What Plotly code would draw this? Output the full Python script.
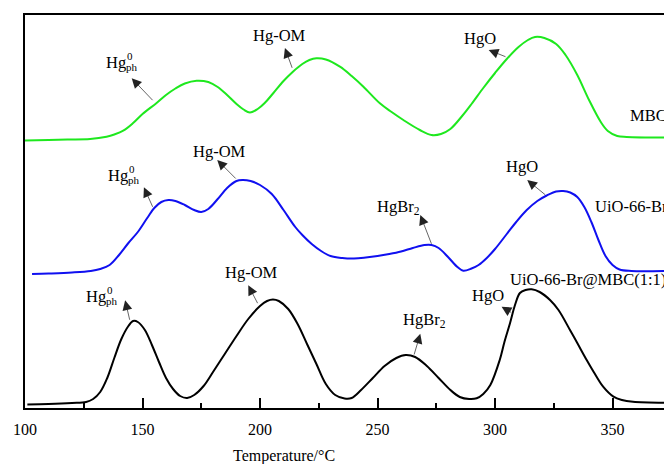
import plotly.graph_objects as go

# Temperature (deg C) and offset TPD signal (arbitrary units)
mbc_T = [100, 110, 118, 127.7, 134.7, 138, 141.8, 146, 150, 156, 160, 164, 168, 173, 178, 182, 186, 190, 193, 195.7,
         199, 202, 205.7, 210, 214, 218, 221, 224, 228, 234, 239, 244, 251, 256, 261, 268, 273, 277,
         281, 286, 290, 295, 300, 305, 310, 314, 317, 321, 326, 330, 335, 340, 345, 348, 352, 356, 372]
mbc_y = [267.5, 268, 268.5, 269, 271.3, 273.5, 277.3, 285, 294, 305, 313, 319.5, 324.5, 327.3, 326, 321, 313, 304, 298.5, 295.5,
         299, 305, 315, 327, 336.3, 344, 348, 349.7, 348.5, 341.3, 332, 321.3, 304.7, 296, 288, 278, 273, 274,
         279, 292, 304, 320, 335, 349, 361, 368, 371, 370, 364, 353, 333, 308, 286, 277, 272, 271, 270.5]

uio_T = [103, 110, 120, 128, 132, 136, 140, 144, 148, 152, 155, 158, 161, 164, 168, 172, 175, 178, 182, 186,
         190, 192.5, 196, 200, 205, 210, 215, 218, 222, 226, 230, 235, 240, 245, 250, 255, 260, 265, 270, 273,
         276, 280, 284, 286.5, 290, 293, 296.5, 300, 305, 309, 313.5, 318, 322, 326, 329, 332, 335, 338, 341,
         344, 347, 350, 353, 358, 372]
uio_y = [134, 134.5, 135.5, 137, 139, 143, 153, 165, 176, 190, 200, 206, 208, 207, 203, 198, 196, 199, 209, 220,
         227, 228, 227, 223, 214, 198, 181, 173, 164, 157, 152, 150, 149.5, 150.5, 152, 154, 156.5, 160, 163, 163,
         160, 151, 141, 137.3, 139.5, 143, 150, 159, 174, 186, 198, 207, 212.5, 216.5, 217, 215.5, 211, 201, 186,
         168, 152, 143, 138.5, 137, 137]

comp_T = [101, 110, 120, 126, 129, 132, 135, 138, 141, 144, 146, 148, 151, 154, 157, 160, 163, 166, 169, 172,
          176, 180, 185, 190, 195, 200, 203, 205.5, 208, 212, 216, 220, 224, 228, 232, 236, 239, 243, 248, 253,
          258, 262, 266, 271, 276, 281, 285, 289, 292.2, 295, 298, 302, 304, 306.4, 308.5, 310.6, 313, 315.6,
          319, 323.4, 327, 331.9, 335, 339, 342, 346, 350.4, 354, 358.7, 372]
comp_y = [3.5, 4, 5, 6, 9, 16, 30, 50, 69, 82, 87, 86, 78, 63, 46, 30, 19, 12, 10, 13,
          22, 36, 54, 72, 89, 102, 107, 108.5, 107, 99, 84, 64, 44, 24, 13, 9.5, 10, 18, 30, 42,
          50, 53, 51, 42, 30, 18, 11, 9, 9.7, 14, 23, 48, 66, 85, 103, 115, 118, 118.7,
          116, 108, 98, 78, 65, 48, 36, 21.3, 11.3, 8, 6.3, 5.3]

x_ticks = [100, 150, 200, 250, 300, 350]

FONT = "Liberation Serif"
LBL = 16.5

fig = go.Figure()
fig.add_trace(go.Scatter(x=mbc_T, y=mbc_y, mode="lines", line=dict(color="#1ee81e", width=2, shape="spline", smoothing=1.0), name="MBC"))
fig.add_trace(go.Scatter(x=uio_T, y=uio_y, mode="lines", line=dict(color="#1010f0", width=2, shape="spline", smoothing=1.0), name="UiO-66-Br"))
fig.add_trace(go.Scatter(x=comp_T, y=comp_y, mode="lines", line=dict(color="black", width=2, shape="spline", smoothing=1.0), name="UiO-66-Br@MBC(1:1)"))

ann = []

def arrow(hx, hy, tx, ty):
    ann.append(dict(x=hx, y=hy, ax=tx, ay=ty, xref="x", yref="y", axref="x", ayref="y",
                    text="", showarrow=True, arrowhead=2, arrowsize=2.8, arrowwidth=0.7,
                    arrowcolor="#222", standoff=0, startstandoff=0))

def label(x, y, text, anchor="center", size=LBL):
    ann.append(dict(x=x, y=y, xref="x", yref="y", text=text, showarrow=False, xanchor=anchor,
                    yanchor="middle", font=dict(family=FONT, size=size, color="black")))

def hgph(xr, y):
    ann.append(dict(x=xr, y=y, xref="x", yref="y", text="Hg", showarrow=False, xanchor="right",
                    yanchor="middle", font=dict(family=FONT, size=LBL, color="black")))
    ann.append(dict(x=xr, y=y, xref="x", yref="y", text="0", showarrow=False, xanchor="left",
                    yanchor="middle", yshift=6, xshift=-3, font=dict(family=FONT, size=11, color="black")))
    ann.append(dict(x=xr, y=y, xref="x", yref="y", text="ph", showarrow=False, xanchor="left",
                    yanchor="middle", yshift=-5, xshift=-4, font=dict(family=FONT, size=11, color="black")))

# MBC
hgph(143.8, 346)
arrow(145.4, 329.7, 154.9, 306.3)
label(208.5, 373, "Hg-OM")
arrow(210.6, 360, 213.9, 338.7)
label(293.4, 369.5, "HgO")
arrow(297.3, 358, 305.1, 350.7)
label(356.6, 293, "MBC", anchor="left")

# UiO-66-Br
hgph(144.7, 233)
arrow(150.6, 220.7, 154.6, 199.7)
label(182.8, 257, "Hg-OM")
arrow(181.8, 248, 190.3, 228)
label(259.1, 201, "HgBr<sub>2</sub>")
arrow(268.2, 193, 273.2, 162.7)
label(311.5, 242, "HgO")
arrow(313.7, 228, 322, 212)
label(341.5, 201.3, "UiO-66-Br", anchor="left")

# UiO-66-Br@MBC(1:1)
hgph(135.4, 112)
arrow(142.6, 107.7, 144.7, 86.7)
label(196.2, 136, "Hg-OM")
arrow(195, 122.7, 199.3, 103.3)
label(270.2, 88, "HgBr<sub>2</sub>")
arrow(268.2, 74.3, 265.4, 52)
label(296.8, 113, "HgO")
arrow(302.8, 101.3, 307.5, 94.7)
label(305.5, 129, "UiO-66-Br@MBC(1:1)", anchor="left")

# axis title (centred where the original, uncropped axis was centred)
ann.append(dict(x=0.4053, y=-0.122, xref="paper", yref="paper", text="Temperature/°C", showarrow=False,
                xanchor="center", yanchor="middle", font=dict(family=FONT, size=16, color="black")))

fig.update_layout(
    width=664, height=464,
    margin=dict(l=25, r=0, t=15, b=56),
    plot_bgcolor="white", paper_bgcolor="white",
    showlegend=False,
    annotations=ann,
    font=dict(family=FONT, size=16, color="black"),
    xaxis=dict(range=[100, 371.9], tickvals=x_ticks, ticktext=[str(v) for v in x_ticks],
               ticks="inside", ticklen=10, tickwidth=1.5, tickcolor="black",
               minor=dict(dtick=25, tick0=100, ticks="inside", ticklen=5, tickwidth=1.5, tickcolor="black"),
               showline=True, linewidth=2, linecolor="black", mirror=True,
               showgrid=False, zeroline=False, ticklabelstandoff=6,
               tickfont=dict(family=FONT, size=16, color="black")),
    yaxis=dict(range=[0, 393], showline=True, linewidth=2, linecolor="black", mirror=False,
               showticklabels=False, ticks="", showgrid=False, zeroline=False),
)

fig.write_html("out.html", config={"displayModeBar": False},
               post_script="document.body.style.margin='0';")
